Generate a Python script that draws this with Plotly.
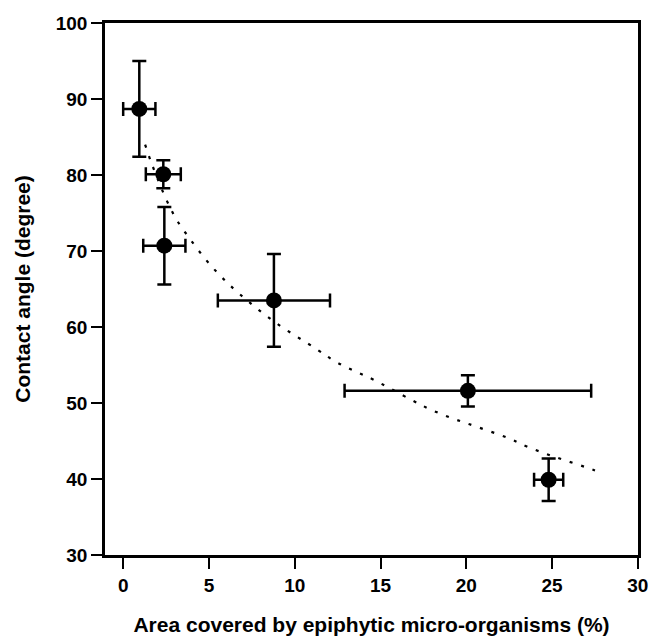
import plotly.graph_objects as go

# Data points
area = [0.93, 2.33, 2.39, 8.78, 20.09, 24.8]
area_err = [0.94, 1.02, 1.23, 3.27, 7.19, 0.85]
angle = [88.7, 80.1, 70.7, 63.5, 51.6, 39.9]
angle_err = [6.3, 1.85, 5.1, 6.1, 2.05, 2.8]

# Dotted trend line
trend_x = [1.27, 1.65, 2.56, 3.11, 3.85, 4.76, 5.67, 6.8, 8.8, 11.26, 12.33, 13.4,
           14.56, 16.8, 17.86, 19.03, 20.19, 22.42, 23.5, 24.66, 25.7, 26.9, 27.96]
trend_y = [84.0, 81.5, 76.5, 74.1, 71.7, 69.0, 66.7, 64.3, 60.7, 57.1, 55.5, 54.3,
           53.1, 50.4, 49.2, 48.1, 47.2, 45.4, 44.3, 43.3, 42.5, 41.6, 40.75]

x_ticks = [0, 5, 10, 15, 20, 25, 30]
y_ticks = [30, 40, 50, 60, 70, 80, 90, 100]

font = "Liberation Sans, Arial, sans-serif"

fig = go.Figure()
fig.add_trace(go.Scatter(
    x=trend_x, y=trend_y, mode="lines", line_shape="spline",
    line=dict(color="black", width=2.2, dash="3px,9px"),
    hoverinfo="skip", showlegend=False))
fig.add_trace(go.Scatter(
    x=area, y=angle, mode="markers",
    marker=dict(color="black", size=16),
    error_x=dict(type="data", array=area_err, color="black", thickness=2.5, width=7),
    error_y=dict(type="data", array=angle_err, color="black", thickness=2.5, width=7),
    showlegend=False))

axis_common = dict(
    showline=True, linecolor="black", linewidth=2.5, mirror=True,
    ticks="outside", ticklen=11, tickwidth=2, tickcolor="black",
    showgrid=False, zeroline=False, automargin=False,
    ticklabeloverflow="allow",
    tickfont=dict(family=font, size=19, color="black", weight="bold"),
)

fig.update_layout(
    width=653, height=643,
    margin=dict(l=105, r=15, t=23, b=88),
    paper_bgcolor="white", plot_bgcolor="white",
    xaxis=dict(range=[-1.07, 30.01], tickvals=x_ticks, ticktext=[str(v) for v in x_ticks],
               title=dict(text="Area covered by epiphytic micro-organisms (%)",
                          font=dict(family=font, size=21, color="black", weight="bold"),
                          standoff=23),
               **axis_common),
    yaxis=dict(range=[30, 100], tickvals=y_ticks, ticktext=[str(v) for v in y_ticks],
               title=dict(text="Contact angle (degree)",
                          font=dict(family=font, size=21, color="black", weight="bold"),
                          standoff=20),
               **axis_common),
)

fig.write_html(
    "out.html",
    config={"displayModeBar": False},
    post_script="document.body.style.margin='0';document.body.style.overflow='hidden';",
)
